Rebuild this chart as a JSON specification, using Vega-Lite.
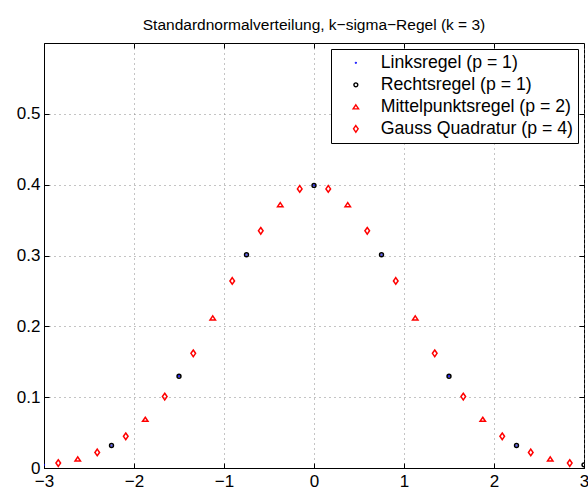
{
  "$schema": "https://vega.github.io/schema/vega-lite/v6.json",
  "width": 540,
  "height": 425,
  "autosize": "none",
  "padding": {"left": 44, "top": 43, "right": 4, "bottom": 23},
  "background": "white",
  "config": {
    "view": {"stroke": "black", "strokeWidth": 1},
    "font": "Liberation Sans",
    "axis": {"labelFont": "Liberation Sans", "labelFontSize": 17, "labelColor": "black", "domainColor": "black", "tickColor": "black"}
  },
  "title": {"text": "Standardnormalverteilung, k−sigma−Regel (k = 3)", "fontSize": 15.5, "fontWeight": "normal", "font": "Liberation Sans", "color": "black", "anchor": "middle", "baseline": "alphabetic", "offset": -3},
  "data": {"values": [
    {"series": "Linksregel (p = 1)", "x": -3, "y": 0.004432},
    {"series": "Linksregel (p = 1)", "x": -2.25, "y": 0.03174},
    {"series": "Linksregel (p = 1)", "x": -1.5, "y": 0.129518},
    {"series": "Linksregel (p = 1)", "x": -0.75, "y": 0.301137},
    {"series": "Linksregel (p = 1)", "x": 0, "y": 0.398942},
    {"series": "Linksregel (p = 1)", "x": 0.75, "y": 0.301137},
    {"series": "Linksregel (p = 1)", "x": 1.5, "y": 0.129518},
    {"series": "Linksregel (p = 1)", "x": 2.25, "y": 0.03174},
    {"series": "Rechtsregel (p = 1)", "x": -2.25, "y": 0.03174},
    {"series": "Rechtsregel (p = 1)", "x": -1.5, "y": 0.129518},
    {"series": "Rechtsregel (p = 1)", "x": -0.75, "y": 0.301137},
    {"series": "Rechtsregel (p = 1)", "x": 0, "y": 0.398942},
    {"series": "Rechtsregel (p = 1)", "x": 0.75, "y": 0.301137},
    {"series": "Rechtsregel (p = 1)", "x": 1.5, "y": 0.129518},
    {"series": "Rechtsregel (p = 1)", "x": 2.25, "y": 0.03174},
    {"series": "Rechtsregel (p = 1)", "x": 3, "y": 0.004432},
    {"series": "Mittelpunktsregel (p = 2)", "x": -2.625, "y": 0.012724},
    {"series": "Mittelpunktsregel (p = 2)", "x": -1.875, "y": 0.068786},
    {"series": "Mittelpunktsregel (p = 2)", "x": -1.125, "y": 0.211877},
    {"series": "Mittelpunktsregel (p = 2)", "x": -0.375, "y": 0.371855},
    {"series": "Mittelpunktsregel (p = 2)", "x": 0.375, "y": 0.371855},
    {"series": "Mittelpunktsregel (p = 2)", "x": 1.125, "y": 0.211877},
    {"series": "Mittelpunktsregel (p = 2)", "x": 1.875, "y": 0.068786},
    {"series": "Mittelpunktsregel (p = 2)", "x": 2.625, "y": 0.012724},
    {"series": "Gauss Quadratur (p = 4)", "x": -2.841506, "y": 0.007041},
    {"series": "Gauss Quadratur (p = 4)", "x": -2.408494, "y": 0.021942},
    {"series": "Gauss Quadratur (p = 4)", "x": -2.091506, "y": 0.044774},
    {"series": "Gauss Quadratur (p = 4)", "x": -1.658494, "y": 0.100838},
    {"series": "Gauss Quadratur (p = 4)", "x": -1.341506, "y": 0.161863},
    {"series": "Gauss Quadratur (p = 4)", "x": -0.908494, "y": 0.264049},
    {"series": "Gauss Quadratur (p = 4)", "x": -0.591506, "y": 0.334914},
    {"series": "Gauss Quadratur (p = 4)", "x": -0.158494, "y": 0.393963},
    {"series": "Gauss Quadratur (p = 4)", "x": 0.158494, "y": 0.393963},
    {"series": "Gauss Quadratur (p = 4)", "x": 0.591506, "y": 0.334914},
    {"series": "Gauss Quadratur (p = 4)", "x": 0.908494, "y": 0.264049},
    {"series": "Gauss Quadratur (p = 4)", "x": 1.341506, "y": 0.161863},
    {"series": "Gauss Quadratur (p = 4)", "x": 1.658494, "y": 0.100838},
    {"series": "Gauss Quadratur (p = 4)", "x": 2.091506, "y": 0.044774},
    {"series": "Gauss Quadratur (p = 4)", "x": 2.408494, "y": 0.021942},
    {"series": "Gauss Quadratur (p = 4)", "x": 2.841506, "y": 0.007041}
  ]},
  "resolve": {"axis": {"x": "independent", "y": "independent"}},
  "layer": [
    {
      "mark": {"type": "point", "filled": false, "opacity": 1, "strokeWidth": 1.5, "clip": true},
      "encoding": {
        "x": {"field": "x", "type": "quantitative", "scale": {"domain": [-3, 3], "nice": false, "zero": false},
          "axis": {"title": null, "values": [-3, -2, -1, 0, 1, 2, 3], "format": "d", "grid": true, "gridColor": "#888", "gridDash": [1, 4], "gridWidth": 1, "tickSize": -5, "tickWidth": 1, "labelPadding": 10, "domain": true, "domainWidth": 1, "labelFlush": false}},
        "y": {"field": "y", "type": "quantitative", "scale": {"domain": [0, 0.6], "nice": false},
          "axis": {"title": null, "values": [0, 0.1, 0.2, 0.3, 0.4, 0.5], "labelExpr": "datum.value == 0 ? '0' : format(datum.value, '.1f')", "grid": true, "gridColor": "#888", "gridDash": [1, 4], "gridWidth": 1, "tickSize": -5, "tickWidth": 1, "labelPadding": 9, "domain": true, "domainWidth": 1}},
        "color": {"field": "series", "type": "nominal",
          "scale": {"domain": ["Linksregel (p = 1)", "Rechtsregel (p = 1)", "Mittelpunktsregel (p = 2)", "Gauss Quadratur (p = 4)"], "range": ["#0000ff", "#000000", "#ff0000", "#ff0000"]},
          "legend": {"title": "\u00a0", "titleOrient": "left", "titlePadding": 11, "titleFontSize": 17, "orient": "none", "legendX": 287, "legendY": 6, "fillColor": "white", "strokeColor": "black", "padding": 5, "labelFontSize": 17.7, "labelFont": "Liberation Sans", "labelColor": "black", "rowPadding": 3, "symbolOffset": 0, "labelOffset": 16, "symbolStrokeWidth": 1.4, "symbolOpacity": 1, "cornerRadius": 0, "labelLimit": 400}},
        "shape": {"field": "series", "type": "nominal",
          "scale": {"domain": ["Linksregel (p = 1)", "Rechtsregel (p = 1)", "Mittelpunktsregel (p = 2)", "Gauss Quadratur (p = 4)"], "range": ["circle", "circle", "M0,-0.75L1,0.75L-1,0.75Z", "M0,-1L0.7,0L0,1L-0.7,0Z"]}},
        "size": {"field": "series", "type": "nominal",
          "scale": {"domain": ["Linksregel (p = 1)", "Rechtsregel (p = 1)", "Mittelpunktsregel (p = 2)", "Gauss Quadratur (p = 4)"], "range": [0.6, 44, 88, 84]}}
      }
    },
    {
      "mark": {"type": "point", "opacity": 0},
      "encoding": {
        "x": {"field": "x", "type": "quantitative", "scale": {"domain": [-3, 3], "nice": false, "zero": false},
          "axis": {"orient": "top", "title": null, "values": [-3, -2, -1, 0, 1, 2, 3], "labels": false, "grid": false, "tickSize": -5, "tickColor": "black", "domain": false}},
        "y": {"field": "y", "type": "quantitative", "scale": {"domain": [0, 0.6], "nice": false},
          "axis": {"orient": "right", "title": null, "values": [0, 0.1, 0.2, 0.3, 0.4, 0.5], "labels": false, "grid": false, "tickSize": -5, "tickColor": "black", "domain": false}}
      }
    }
  ]
}
